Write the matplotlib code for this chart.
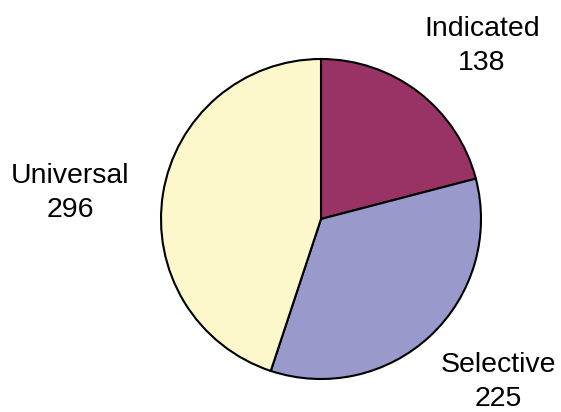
import matplotlib
matplotlib.use("Agg")
import matplotlib.pyplot as plt

categories = ["Indicated", "Selective", "Universal"]
values = [138, 225, 296]
colors = ["#993366", "#9999CC", "#FCF8CC"]

W, H = 561, 412
fig = plt.figure(figsize=(W / 100, H / 100), dpi=100)
ax = fig.add_axes([0, 0, 1, 1])

cx, cy, r = 321, H - 219, 160
ax.pie(values, colors=colors, startangle=90, counterclock=False,
       center=(cx, cy), radius=r,
       wedgeprops=dict(edgecolor="black", linewidth=1.5), frame=True)
ax.set_xlim(0, W)
ax.set_ylim(0, H)
ax.set_aspect("equal")
ax.axis("off")

label_pos = [(482, H - 46), (498, H - 382), (70, H - 193)]
for cat, val, (x, y) in zip(categories, values, label_pos):
    ax.text(x, y, f"{cat}\n{val}", ha="center", va="center",
            fontsize=20.5, family="Liberation Sans", linespacing=1.4)

fig.savefig("out.png", dpi=100)
